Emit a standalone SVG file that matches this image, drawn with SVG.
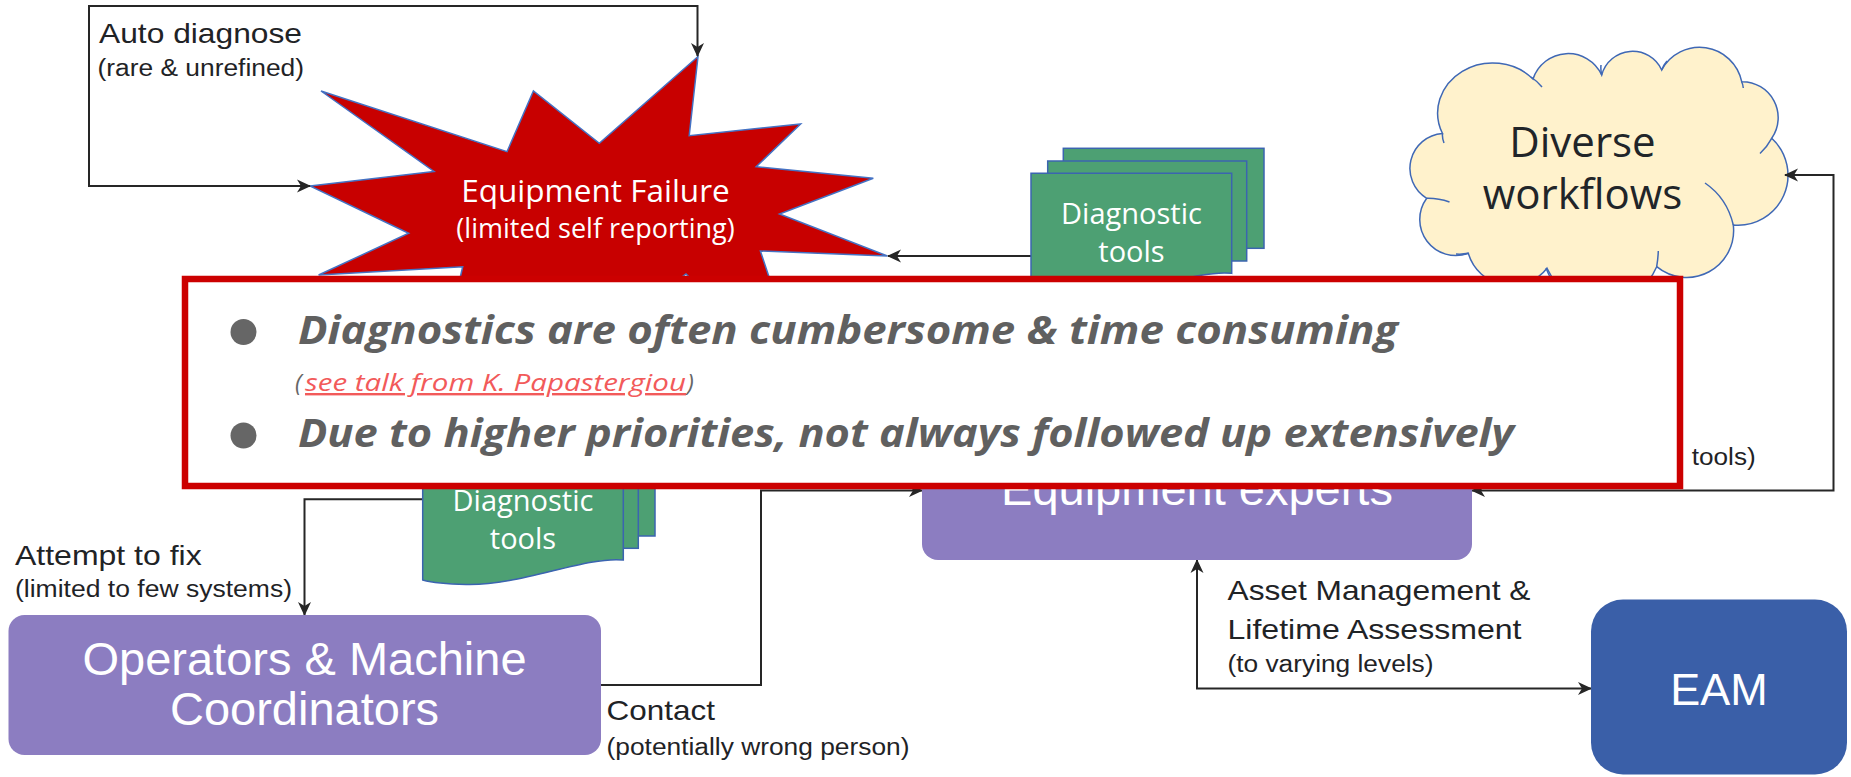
<svg xmlns="http://www.w3.org/2000/svg" width="1851" height="777" viewBox="0 0 1851 777">
<style>
.lbl{font-family:"Liberation Sans",Arial,sans-serif;fill:#1f2326;}
.big{font-size:28px;}
.sub{font-size:23.5px;}
.box{font-family:"Liberation Sans",Arial,sans-serif;fill:#ffffff;text-anchor:middle;}
.os{font-family:"Open Sans","Noto Sans",sans-serif;text-anchor:middle;}
.conn{fill:none;stroke:#262626;stroke-width:2;}
.doc{fill:#4DA073;stroke:#3B64B0;stroke-width:1.5;}
.purple{fill:#8C7DC1;}
.inner{fill:none;stroke:#3F68B5;stroke-width:1.5;}
.bul{font-family:"Open Sans","Noto Sans",sans-serif;font-weight:bold;font-style:italic;font-size:40px;fill:#606060;}
.lnk{font-family:"Open Sans","Noto Sans",sans-serif;font-style:italic;font-size:24px;}
</style>
<defs>
<marker id="arr" viewBox="0 0 14 14" markerWidth="14" markerHeight="14" refX="13" refY="7" orient="auto-start-reverse" markerUnits="userSpaceOnUse">
<path d="M0,0.5 L14,7 L0,13.5 L4,7 z" fill="#262626"/>
</marker>
</defs>

<g id="failure">
<polygon points="310,186 434,171.5 321,91 507,151.7 533.4,91 599.3,143.3 698,56.5 689.2,135.7 800.6,124 756.2,166.7 873.3,178.3 779.5,214 887.4,256 760.4,251 775,295 705,292 686,274 650,300 560,320 455,300 462.7,266.7 318.6,275 408.7,233.3" fill="#C80000" stroke="#4472C4" stroke-width="1.5" stroke-linejoin="miter"/>
<text class="os" x="595.5" y="202" font-size="31.5" fill="#ffffff">Equipment Failure</text>
<text class="os" x="595.5" y="238" font-size="27" fill="#ffffff">(limited self reporting)</text>
</g>

<g id="workflows">
<path d="M1442.5,133.5 A55 50 0 0 1 1533,79 A37 37 0 0 1 1601.7,75 A32 32 0 0 1 1661.7,70 A43 43 0 0 1 1741.7,81.7 A36 36 0 0 1 1771.7,138.3 A50 50 0 0 1 1733.3,225 A47 47 0 0 1 1656.7,266.7 A60 60 0 0 1 1547,268.3 A45 45 0 0 1 1468.3,253.3 A36 36 0 0 1 1426.7,198.3 A35 35 0 0 1 1442.5,133.5 Z" fill="#FFF2CC" stroke="#3F68B5" stroke-width="1.5"/>
<path class="inner" d="M1442.5,133.5 Q1442,138 1444,143 M1531,77 Q1537,81 1542,87 M1601.7,75 Q1600.5,70 1601,65 M1661.7,70 Q1663.5,65 1667,61 M1741.7,81.7 Q1742.8,84 1743.3,88 M1771.7,138.3 Q1767,147 1760,153.5 M1705,183 Q1727,198 1733.3,225 M1656.7,266.7 Q1658,259 1658.3,251 M1546,268 Q1548,273 1550,277 M1468.3,253.3 Q1462,254.5 1456,254 M1426.7,198.3 Q1438,198 1449.5,202"/>
<text class="os" x="1582.5" y="156.7" font-size="42" fill="#212529">Diverse</text>
<text class="os" x="1582.5" y="209.3" font-size="42" fill="#212529">workflows</text>
</g>

<g id="connectors">
<path class="conn" d="M310,186 H89 V6 H697.5 V56" marker-start="url(#arr)" marker-end="url(#arr)"/>
<path class="conn" d="M1040,256 H888" marker-end="url(#arr)"/>
<path class="conn" d="M440,499.3 H304.5 V615" marker-end="url(#arr)"/>
<path class="conn" d="M601,685 H761 V490.5 H922" marker-end="url(#arr)"/>
<path class="conn" d="M1472,490.5 H1833.5 V175 H1785" marker-start="url(#arr)" marker-end="url(#arr)"/>
<path class="conn" d="M1197,560 V688.5 H1591" marker-start="url(#arr)" marker-end="url(#arr)"/>
</g>

<g id="tools-top">
<rect class="doc" x="1063.3" y="148.3" width="200.7" height="100"/>
<rect class="doc" x="1047.7" y="161" width="199" height="100"/>
<path class="doc" d="M1031,173.3 H1231.7 V273.3 C1193.7,269.3 1128.7,299.3 1074.4,297.8 C1053.4,297.3 1038.4,295.3 1031,293.3 Z"/>
<text class="os" x="1131.5" y="224.3" font-size="29" fill="#ffffff">Diagnostic</text>
<text class="os" x="1131.5" y="261.7" font-size="29" fill="#ffffff">tools</text>
</g>

<g id="tools-bottom">
<rect class="doc" x="454" y="435" width="201" height="101"/>
<rect class="doc" x="438.3" y="447.5" width="200" height="100.8"/>
<path class="doc" d="M422.7,460 H623.3 V560 C585.3,556 520.3,586 466,584.5 C445,584 430,582 422.7,580 Z"/>
<text class="os" x="523" y="510.7" font-size="29" fill="#ffffff">Diagnostic</text>
<text class="os" x="523" y="549.3" font-size="29" fill="#ffffff">tools</text>
</g>

<g id="operators">
<rect class="purple" x="8.5" y="615" width="592.5" height="140" rx="16"/>
<text class="box" x="304.5" y="675" font-size="47">Operators &amp; Machine</text>
<text class="box" x="304.5" y="725" font-size="47">Coordinators</text>
</g>

<g id="experts">
<rect class="purple" x="922" y="418" width="550" height="142" rx="16"/>
<text class="box" x="1197" y="505" font-size="47">Equipment experts</text>
</g>

<g id="eam">
<rect x="1591" y="599.5" width="256" height="175" rx="32" fill="#3A5FA8"/>
<text class="box" x="1719" y="705" font-size="45">EAM</text>
</g>

<g id="labels">
<text class="lbl big" x="99" y="43" textLength="203" lengthAdjust="spacingAndGlyphs">Auto diagnose</text>
<text class="lbl sub" x="97.5" y="75.5" textLength="206.5" lengthAdjust="spacingAndGlyphs">(rare &amp; unrefined)</text>
<text class="lbl big" x="15" y="565" textLength="186.7" lengthAdjust="spacingAndGlyphs">Attempt to fix</text>
<text class="lbl sub" x="15" y="597" textLength="277" lengthAdjust="spacingAndGlyphs">(limited to few systems)</text>
<text class="lbl big" x="606.5" y="720" textLength="108.5" lengthAdjust="spacingAndGlyphs">Contact</text>
<text class="lbl sub" x="606.5" y="755" textLength="303" lengthAdjust="spacingAndGlyphs">(potentially wrong person)</text>
<text class="lbl big" x="1227.5" y="600" textLength="303" lengthAdjust="spacingAndGlyphs">Asset Management &amp;</text>
<text class="lbl big" x="1227.5" y="639" textLength="294" lengthAdjust="spacingAndGlyphs">Lifetime Assessment</text>
<text class="lbl sub" x="1227.5" y="671.5" textLength="206" lengthAdjust="spacingAndGlyphs">(to varying levels)</text>
<text class="lbl sub" x="1691.7" y="465" textLength="64" lengthAdjust="spacingAndGlyphs">tools)</text>
</g>

<g id="callout">
<rect x="185" y="279" width="1495" height="207" fill="#ffffff" stroke="#CC0000" stroke-width="6.5"/>
<circle cx="243.5" cy="332" r="13" fill="#666666"/>
<circle cx="243.5" cy="435.5" r="13" fill="#666666"/>
<text class="bul" x="298" y="343.5" textLength="1100" lengthAdjust="spacingAndGlyphs">Diagnostics are often cumbersome &amp; time consuming</text>
<text class="lnk" x="295" y="391" fill="#666666">(</text>
<text class="lnk" x="305" y="391" fill="#F25A5A" text-decoration="underline" textLength="381" lengthAdjust="spacingAndGlyphs">see talk from K. Papastergiou</text>
<text class="lnk" x="687" y="391" fill="#666666">)</text>
<text class="bul" x="298" y="446.7" textLength="1216" lengthAdjust="spacingAndGlyphs">Due to higher priorities, not always followed up extensively</text>
</g>
</svg>
